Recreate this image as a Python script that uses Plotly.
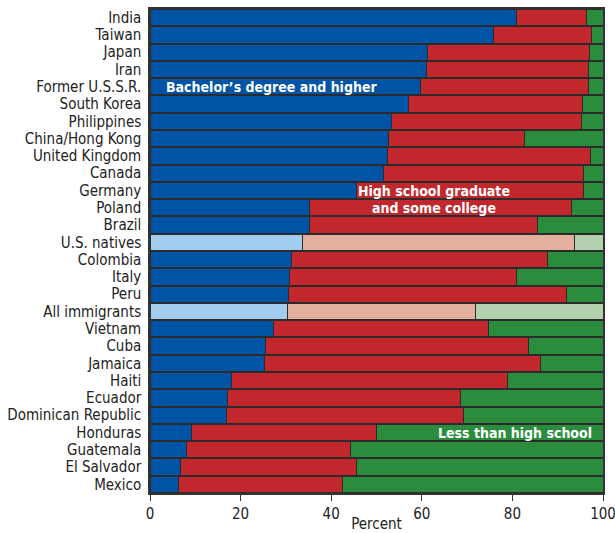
import plotly.graph_objects as go

countries = ["India", "Taiwan", "Japan", "Iran", "Former U.S.S.R.", "South Korea",
             "Philippines", "China/Hong Kong", "United Kingdom", "Canada", "Germany",
             "Poland", "Brazil", "U.S. natives", "Colombia", "Italy", "Peru",
             "All immigrants", "Vietnam", "Cuba", "Jamaica", "Haiti", "Ecuador",
             "Dominican Republic", "Honduras", "Guatemala", "El Salvador", "Mexico"]

bachelor = [81.0, 75.8, 61.2, 61.1, 59.7, 57.1, 53.2, 52.6, 52.4, 51.5, 45.6,
            35.2, 35.1, 33.6, 31.2, 30.8, 30.5, 30.3, 27.2, 25.6, 25.2, 17.9,
            17.1, 16.9, 9.2, 8.1, 6.8, 6.2]
cum_hs = [96.4, 97.4, 97.0, 96.9, 96.7, 95.5, 95.3, 82.6, 97.2, 95.8, 95.6,
          93.1, 85.5, 93.8, 87.7, 81.0, 91.9, 71.9, 74.8, 83.5, 86.3, 79.0,
          68.6, 69.1, 50.1, 44.2, 45.5, 42.4]
highschool = [round(c - b, 1) for c, b in zip(cum_hs, bachelor)]
less_hs = [round(100 - c, 1) for c in cum_hs]

highlight = {"U.S. natives", "All immigrants"}

def colors(dark, light):
    return [light if c in highlight else dark for c in countries]

font = "DejaVu Sans Condensed, Liberation Sans Narrow, sans-serif"
outline = dict(color="#2b2b2b", width=1)

fig = go.Figure()
fig.add_trace(go.Bar(y=countries, x=bachelor, orientation="h", name="Bachelor's degree and higher",
                     marker=dict(color=colors("#0054A6", "#A3CDEE"), line=outline)))
fig.add_trace(go.Bar(y=countries, x=highschool, orientation="h", name="High school graduate and some college",
                     marker=dict(color=colors("#C1272D", "#E4AF9C"), line=outline)))
fig.add_trace(go.Bar(y=countries, x=less_hs, orientation="h", name="Less than high school",
                     marker=dict(color=colors("#2A8C3C", "#B3D1AE"), line=outline)))

ann_font = dict(family=font, size=14, color="white")
fig.add_annotation(x=26.8, y="Former U.S.S.R.", text="<b>Bachelor’s degree and higher</b>",
                   showarrow=False, font=ann_font)
fig.add_annotation(x=62.6, y="Germany", text="<b>High school graduate</b>",
                   showarrow=False, font=ann_font)
fig.add_annotation(x=62.6, y="Poland", text="<b>and some college</b>",
                   showarrow=False, font=ann_font)
fig.add_annotation(x=80.6, y="Honduras", text="<b>Less than high school</b>",
                   showarrow=False, font=ann_font)

fig.update_layout(
    width=615, height=533,
    barmode="stack", bargap=0.06,
    showlegend=False,
    plot_bgcolor="white", paper_bgcolor="white",
    margin=dict(l=150, r=12, t=9, b=40),
    font=dict(family=font, size=15, color="#222"),
)
fig.update_yaxes(autorange="reversed", showline=True, linecolor="#333", linewidth=1.5,
                 mirror=True, ticks="", ticklabelstandoff=4, automargin=False,
                 tickmode="array", tickvals=countries, ticktext=countries,
                 tickfont=dict(size=15))
fig.update_xaxes(range=[0, 100], tickvals=[0, 20, 40, 60, 80, 100], showgrid=False,
                 showline=True, linecolor="#333", linewidth=1.5, mirror=True,
                 ticks="outside", ticklen=6, tickcolor="#333", zeroline=False,
                 automargin=False, ticklabeloverflow="allow",
                 title=dict(text="Percent", standoff=3, font=dict(size=15)),
                 tickfont=dict(size=15))

fig.write_html("out.html", config={"displayModeBar": False},
               post_script="document.body.style.margin='0';")
